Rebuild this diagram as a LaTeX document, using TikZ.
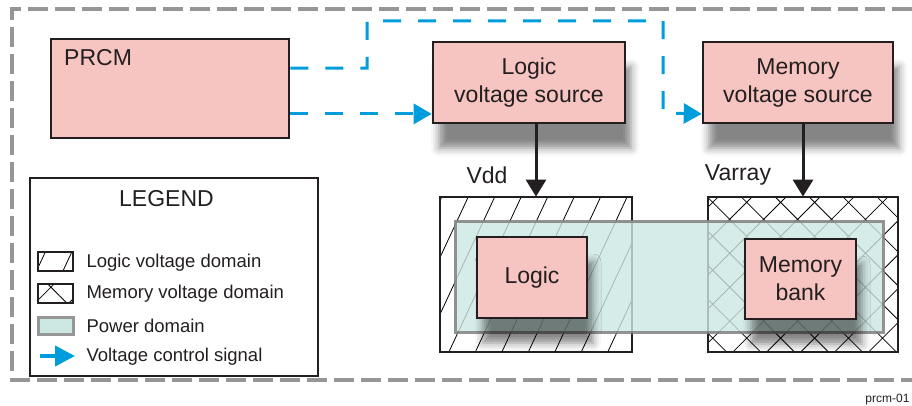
\documentclass[tikz,border=0pt]{standalone}
\usepackage{fontspec}
\setmainfont{Liberation Sans}
\usepackage{tikz}
\usetikzlibrary{arrows.meta}
\usetikzlibrary{patterns.meta}
\usetikzlibrary{shadows.blur}
\usetikzlibrary{calc}
\definecolor{boxpink}{RGB}{246,196,193}
\definecolor{pdteal}{RGB}{204,231,226}
\definecolor{ctrlblue}{RGB}{0,157,220}
\definecolor{framegray}{RGB}{150,150,150}
\definecolor{inkdark}{RGB}{35,31,32}
\newcommand{\bigtxt}{\fontsize{23}{28}\selectfont}
\newcommand{\legtxt}{\fontsize{18.5}{22}\selectfont}
\tikzstyle{block}=[draw=inkdark,fill=boxpink,line width=2.6pt,inner sep=0pt,align=center,text=inkdark,font=\bigtxt]
\tikzstyle{shade}=[blur shadow={shadow xshift=6pt,shadow yshift=-25pt,shadow blur radius=8pt,shadow opacity=48}]
\tikzstyle{logicdom}=[draw=inkdark,line width=2pt,pattern={Lines[angle=65,distance=24pt,line width=.8pt]},inner sep=0pt]
\tikzstyle{memdom}=[draw=inkdark,line width=2pt,pattern={Hatch[angle=45,distance=24pt,line width=.8pt]},inner sep=0pt]
\tikzstyle{powdom}=[draw=gray,draw opacity=.85,fill=pdteal,fill opacity=.8,line width=3pt,inner sep=0pt]
\tikzstyle{ctrl}=[draw=ctrlblue,line width=3pt,dash pattern=on 18pt off 17pt,-{Triangle[length=18pt,width=20pt]}]
\tikzstyle{supply}=[draw=inkdark,line width=3pt,-{Triangle[length=17pt,width=20pt]}]

\begin{document}
\begin{tikzpicture}[x=1pt,y=-1pt]
  \useasboundingbox (0,0) rectangle (912,406);

  % outer frame
  \coordinate (fa) at (912,9);
  \coordinate (fb) at (12,9);
  \coordinate (fc) at (12,380);
  \coordinate (fd) at (912,380);
  \draw[framegray,line width=3.5pt,dash pattern=on 20pt off 7pt] (fa) -- (fb) -- (fc) -- (fd);

  % sources
  \node[block,minimum width=238,minimum height=99] (prcm) at (170,88.5) {};
  \node[anchor=base west,font=\bigtxt,text=inkdark] (prcmtext) at ($(prcm.north west)+(11,28)$) {PRCM};
  \node[block,shade,minimum width=192,minimum height=81] (lvs) at (529,82.5) {Logic\\voltage source};
  \node[block,shade,minimum width=190,minimum height=81] (mvs) at (798,82.5) {Memory\\voltage source};

  % domains
  \node[logicdom,minimum width=192,minimum height=155] (ldom) at (536,274.5) {};
  \node[memdom,minimum width=190,minimum height=155] (mdom) at (803,274.5) {};
  \node[powdom,minimum width=428,minimum height=111] (pdom) at (669,276.5) {};
  \node[block,shade,minimum width=110,minimum height=81] (logic) at (532,277.5) {Logic};
  \node[block,shade,minimum width=111,minimum height=80] (mbank) at (800.5,279) {Memory\\bank};

  % control signals
  \coordinate (p1) at ($(prcm.north east)!.3!(prcm.south east)$);
  \coordinate (p2) at ($(prcm.north east)!.75!(prcm.south east)$);
  \draw[ctrl] (p2) -- (lvs.west |- p2);
  \draw[ctrl] (p1) -| (367,21) -| (663,113) -- (mvs.west |- p2);

  % supplies
  \draw[supply] (lvs.south -| ldom.north) -- (ldom.north);
  \draw[supply] (mvs.south -| mdom.north) -- (mdom.north);
  \node[anchor=base,font=\bigtxt,text=inkdark] (vdd) at (487,183) {Vdd};
  \node[anchor=base,font=\bigtxt,text=inkdark] (varray) at (738,180) {Varray};

  % legend
  \node[draw=inkdark,line width=1.2pt,minimum width=288,minimum height=198,inner sep=0pt] (legend) at (174,277) {};
  \node[anchor=base,font=\bigtxt,text=inkdark] (legtitle) at (166.5,206) {LEGEND};
  \node[logicdom,line width=2.5pt,minimum width=35,minimum height=19] (iconl) at (55.5,261.5) {};
  \node[memdom,line width=2.5pt,minimum width=35,minimum height=19] (iconm) at (55.5,293.5) {};
  \node[draw=framegray,fill=pdteal,line width=3pt,minimum width=35,minimum height=17,inner sep=0pt] (iconp) at (55.5,325.5) {};
  \coordinate (arra) at (40,356);
  \coordinate (arrb) at (75,356);
  \draw[draw=ctrlblue,line width=4pt,-{Triangle[length=20pt,width=20pt]}] (arra) -- (arrb);
  \foreach \y/\txt in {267/Logic voltage domain,298/Memory voltage domain,332/Power domain,361/Voltage control signal}{
    \node[anchor=base west,font=\legtxt,text=inkdark] (leg\y) at (83,\y) {\txt};
  }

  \node[anchor=base east,font=\fontsize{12}{14}\selectfont,text=inkdark] (figid) at (913,402) {prcm-01};
\end{tikzpicture}
\end{document}
